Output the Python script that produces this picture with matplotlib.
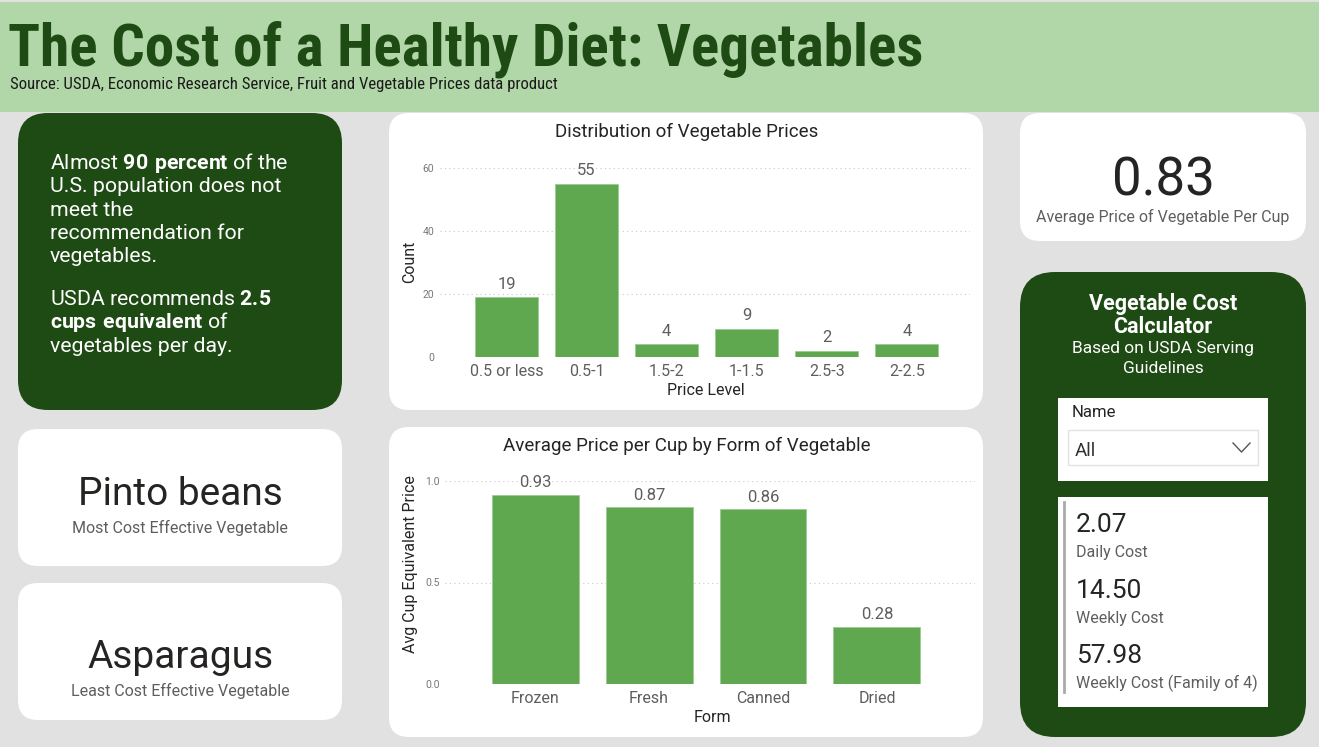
import matplotlib
matplotlib.use("Agg")
import matplotlib.pyplot as plt
from matplotlib.patches import FancyBboxPatch, Rectangle

W, H = 1319, 747

# data shown on the dashboard
price_levels = ["0.5 or less", "0.5-1", "1.5-2", "1-1.5", "2.5-3", "2-2.5"]
price_counts = [19, 55, 4, 9, 2, 4]
forms = ["Frozen", "Fresh", "Canned", "Dried"]
form_prices = [0.93, 0.87, 0.86, 0.28]
avg_price = 0.83
cheapest = "Pinto beans"
priciest = "Asparagus"
calc_values = [2.07, 14.50, 57.98]
calc_labels = ["Daily Cost", "Weekly Cost", "Weekly Cost (Family of 4)"]

DARK = "#1e4a14"
HEADER = "#b1d7a9"
BG = "#e1e1e1"
BAR = "#5fa84f"
TXT = "#252423"
GREY = "#605e5c"

plt.rcParams["font.family"] = ["Roboto", "DejaVu Sans"]
plt.rcParams["mathtext.fontset"] = "custom"
plt.rcParams["mathtext.rm"] = "Roboto"
plt.rcParams["mathtext.bf"] = "Roboto:bold"

fig = plt.figure(figsize=(W / 100, H / 100), dpi=100)
fig.patch.set_facecolor(BG)
bg = fig.add_axes([0, 0, 1, 1])
bg.set_xlim(0, W)
bg.set_ylim(H, 0)
bg.axis("off")


def panel(x0, y0, x1, y1, color, r):
    bg.add_patch(FancyBboxPatch((x0, y0), x1 - x0, y1 - y0,
                                boxstyle=f"round,pad=0,rounding_size={r}",
                                fc=color, ec="none"))


def fit(t, width):
    w = t.get_window_extent(fig.canvas.get_renderer()).width
    t.set_fontsize(t.get_fontsize() * width / w)


# header
bg.add_patch(Rectangle((0, 2), W, 110, fc=HEADER, ec="none"))
title = bg.text(8, 65, "The Cost of a Healthy Diet: Vegetables", fontsize=40,
                fontweight="bold", color=DARK, va="baseline",
                family=["Roboto Condensed", "Liberation Sans Narrow", "Roboto"])
fit(title, 914)
sub = bg.text(10, 89, "Source: USDA, Economic Research Service, Fruit and Vegetable Prices data product",
              fontsize=10, color="#1a1a1a", va="baseline",
              family=["Roboto Condensed", "Liberation Sans Narrow", "Roboto"])
fit(sub, 546)

# panels
panel(18, 113, 342, 410, DARK, 30)
panel(18, 429, 342, 566, "white", 20)
panel(18, 583, 342, 720, "white", 20)
panel(389, 113, 983, 410, "white", 20)
panel(389, 427, 983, 737, "white", 20)
panel(1020, 113, 1306, 241, "white", 20)
panel(1020, 272, 1306, 737, DARK, 35)

# left text block
lines = [r"Almost $\mathbf{90\ percent}$ of the", "U.S. population does not", "meet the",
         "recommendation for", "vegetables."]
for i, s in enumerate(lines):
    bg.text(50, 169 + i * 23.3, s, fontsize=15.3, color="white", va="baseline")
lines = [r"USDA recommends $\mathbf{2.5}$", r"$\mathbf{cups\ equivalent}$ of", "vegetables per day."]
for i, s in enumerate(lines):
    bg.text(50, 305 + i * 23.3, s, fontsize=15.3, color="white", va="baseline")

# cards
bg.text(180, 505, cheapest, fontsize=28, color=TXT, ha="center", va="baseline")
bg.text(180, 533, "Most Cost Effective Vegetable", fontsize=11.5, color=GREY, ha="center", va="baseline")
bg.text(180, 668, priciest, fontsize=28, color=TXT, ha="center", va="baseline")
bg.text(180, 696, "Least Cost Effective Vegetable", fontsize=11.5, color=GREY, ha="center", va="baseline")
bg.text(1163, 195, f"{avg_price:.2f}", fontsize=38, color=TXT, ha="center", va="baseline")
bg.text(1163, 222, "Average Price of Vegetable Per Cup", fontsize=11.5, color=GREY, ha="center", va="baseline")

# calculator
bg.text(1163, 310, "Vegetable Cost", fontsize=15.5, fontweight="bold", color="white", ha="center", va="baseline")
bg.text(1163, 333, "Calculator", fontsize=15.5, fontweight="bold", color="white", ha="center", va="baseline")
bg.text(1163, 353, "Based on USDA Serving", fontsize=12.5, color="white", ha="center", va="baseline")
bg.text(1163, 373, "Guidelines", fontsize=12.5, color="white", ha="center", va="baseline")
bg.add_patch(Rectangle((1058, 398), 210, 83, fc="white", ec="none"))
bg.add_patch(Rectangle((1068, 430), 190, 35, fc="white", ec="#e3e3e3", lw=1))
bg.text(1072, 417, "Name", fontsize=12, color=TXT, va="baseline")
bg.text(1075, 456, "All", fontsize=13.5, color="#333333", va="baseline")
bg.plot([1233, 1241.5, 1250], [443, 452, 443], color="#555555", lw=1)
bg.add_patch(Rectangle((1058, 497), 210, 210, fc="white", ec="none"))
bg.plot([1064, 1064], [502, 692], color="#aaaaaa", lw=2)
for i, (v, lab) in enumerate(zip(calc_values, calc_labels)):
    y = 532 + i * 65.5
    bg.text(1076, y, f"{v:.2f}", fontsize=19, color=TXT, va="baseline")
    bg.text(1076, y + 25, lab, fontsize=11.5, color=GREY, va="baseline")


def bar_chart(rect, cats, vals, width, ylim, ticks, tickfmt, xlim, pad):
    ax = fig.add_axes([rect[0] / W, 1 - rect[3] / H, (rect[2] - rect[0]) / W, (rect[3] - rect[1]) / H])
    ax.set_facecolor("none")
    x = range(len(cats))
    bars = ax.bar(x, vals, width=width, color=BAR, edgecolor="#9dcb92", lw=0.6, zorder=3)
    ax.set_ylim(*ylim)
    ax.set_xlim(*xlim)
    ax.set_yticks(ticks)
    ax.set_yticklabels([tickfmt.format(t) for t in ticks])
    ax.set_xticks(list(x))
    ax.set_xticklabels(cats)
    ax.tick_params(axis="x", length=0, pad=5, labelsize=11.5, labelcolor=GREY)
    ax.tick_params(axis="y", length=0, pad=4, labelsize=7.5, labelcolor="#777777")
    ax.grid(axis="y", color="#c8c8c8", linestyle=(0, (1, 3)), lw=0.8, zorder=0)
    for s in ax.spines.values():
        s.set_visible(False)
    for b, v in zip(bars, vals):
        ax.annotate(f"{v:g}" if isinstance(v, int) else f"{v:.2f}",
                    (b.get_x() + b.get_width() / 2, v), xytext=(0, pad), textcoords="offset points",
                    ha="center", va="bottom", fontsize=12, color=GREY, annotation_clip=False)
    return ax


bar_chart((440, 168, 970, 357), price_levels, price_counts, 0.79, (0, 60), [0, 20, 40, 60], "{:g}",
          (-0.83, 5.79), 4)
bg.text(687, 137, "Distribution of Vegetable Prices", fontsize=13.5, color=TXT, ha="center", va="baseline")
bg.text(706, 395, "Price Level", fontsize=11.5, color=TXT, ha="center", va="baseline")
bg.text(410, 262, "Count", fontsize=11.5, color=TXT, ha="center", va="center", rotation=90)

bar_chart((445, 481, 975, 684), forms, form_prices, 0.763, (0, 1), [0, 0.5, 1.0], "{:.1f}",
          (-0.79, 3.86), 3.5)
bg.text(687, 451, "Average Price per Cup by Form of Vegetable", fontsize=13.5, color=TXT, ha="center",
        va="baseline")
bg.text(712, 722, "Form", fontsize=11.5, color=TXT, ha="center", va="baseline")
bg.text(410, 564, "Avg Cup Equivalent Price", fontsize=11.5, color=TXT, ha="center", va="center", rotation=90)

fig.savefig("out.png", dpi=100, facecolor=fig.get_facecolor())
